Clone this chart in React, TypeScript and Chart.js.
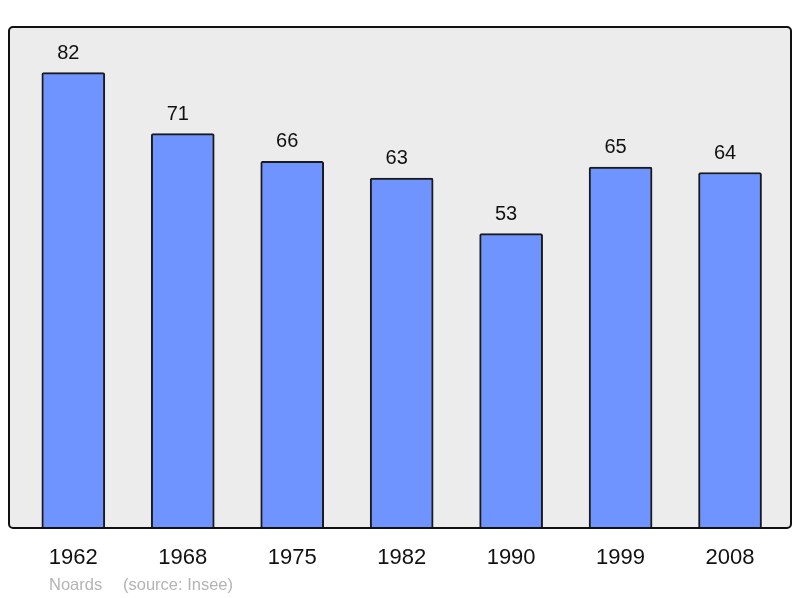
import React, { useEffect, useRef } from 'react';
import { Chart, registerables } from 'chart.js';

Chart.register(...registerables);

const years = ['1962', '1968', '1975', '1982', '1990', '1999', '2008'];
const population = [82, 71, 66, 63, 53, 65, 64];
const footerLeft = 'Noards';
const footerRight = '(source: Insee)';

const FONT = '"Liberation Sans", Arial, sans-serif';

// gray panel behind the bars, frame on top of them, value labels and footer
const framePlugin = {
  id: 'frame',
  beforeDatasetsDraw(chart: Chart) {
    const { ctx, chartArea: a } = chart;
    ctx.save();
    ctx.fillStyle = '#ececec';
    ctx.beginPath();
    ctx.roundRect(a.left, a.top, a.right - a.left, a.bottom - a.top, 4);
    ctx.fill();
    ctx.restore();
  },
  afterDatasetsDraw(chart: Chart) {
    const { ctx, chartArea: a } = chart;
    ctx.save();
    ctx.strokeStyle = '#111';
    ctx.lineWidth = 2;
    ctx.beginPath();
    ctx.roundRect(a.left, a.top, a.right - a.left, a.bottom - a.top, 4);
    ctx.stroke();

    // value labels sit a little left of the bar centre in the original
    const meta = chart.getDatasetMeta(0);
    ctx.fillStyle = '#111';
    ctx.font = `20px ${FONT}`;
    ctx.textAlign = 'center';
    ctx.textBaseline = 'alphabetic';
    meta.data.forEach((bar: any, i: number) => {
      ctx.fillText(String(population[i]), bar.x - 5, bar.y - 14);
    });

    ctx.fillStyle = '#b4b4b4';
    ctx.font = `16.5px ${FONT}`;
    ctx.textAlign = 'left';
    ctx.fillText(footerLeft, 49, 590);
    ctx.fillText(footerRight, 123, 590);
    ctx.restore();
  },
};

export default function App() {
  const canvasRef = useRef<HTMLCanvasElement>(null);

  useEffect(() => {
    const canvas = canvasRef.current;
    if (!canvas) return;

    const chart = new Chart(canvas, {
      type: 'bar',
      data: {
        datasets: [
          {
            data: population.map((v, i) => ({ x: i, y: v })),
            backgroundColor: '#7094ff',
            borderColor: '#1a1a1a',
            borderWidth: 2,
            borderRadius: 2,
            borderSkipped: 'bottom',
            barThickness: 63,
          },
        ],
      },
      options: {
        animation: false,
        responsive: false,
        maintainAspectRatio: false,
        layout: { padding: { top: 27, left: 9, right: 9, bottom: 0 } },
        plugins: {
          legend: { display: false },
          tooltip: { enabled: false },
        },
        scales: {
          x: {
            type: 'linear',
            offset: false,
            min: -0.5875,
            max: 6.557,
            grid: { display: false },
            border: { display: false },
            afterFit: (scale: any) => {
              scale.height = 70;
            },
            ticks: {
              stepSize: 1,
              includeBounds: false,
              autoSkip: false,
              maxRotation: 0,
              padding: 9,
              color: '#111',
              font: { family: FONT, size: 22 },
              callback: (v: any) => years[v] ?? '',
            },
          },
          y: {
            display: false,
            min: 0,
            max: 90.2,
          },
        },
      },
      plugins: [framePlugin],
    });

    return () => {
      chart.destroy();
    };
  }, []);

  return (
    <div style={{ position: 'fixed', left: 0, top: 0, width: 800, height: 598, background: '#fff' }}>
      <canvas ref={canvasRef} width={800} height={598} style={{ width: 800, height: 598 }} />
    </div>
  );
}
